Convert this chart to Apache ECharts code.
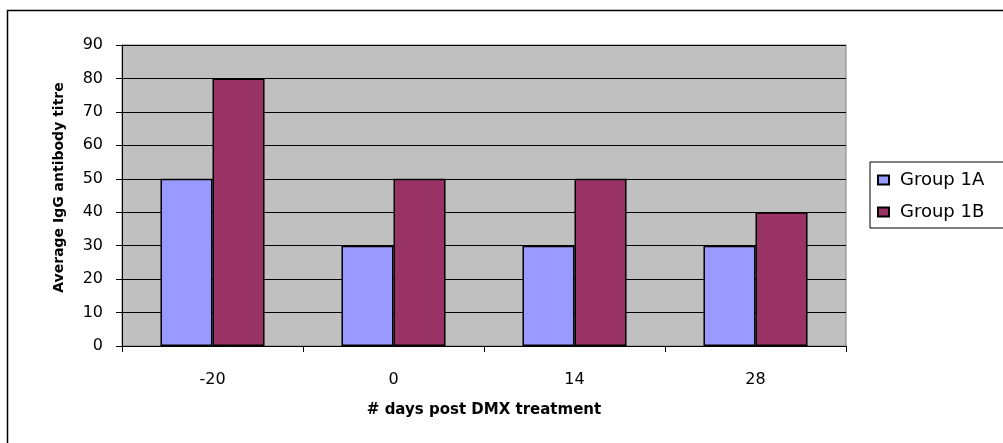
<!DOCTYPE html>
<html>
<head>
<meta charset="utf-8">
<script src="https://cdn.jsdelivr.net/npm/echarts@6/dist/echarts.min.js"></script>
<style>
  html, body { margin: 0; padding: 0; background: #fff; }
  #main { width: 1003px; height: 443px; }
</style>
</head>
<body>
<div id="main"></div>
<script>
// chart data
const days = ["-20", "0", "14", "28"];
const group1A = [50, 30, 30, 30];
const group1B = [80, 50, 50, 40];
const yTicks = [0, 90, 10]; // min, max, interval

const font = "'DejaVu Sans', 'Liberation Sans', Arial, sans-serif";

let myChart = echarts.init(document.getElementById("main"));
myChart.setOption({
  animation: false,
  backgroundColor: "#fff",
  graphic: [
    {
      type: "rect",
      shape: { x: 7.5, y: 10.5, width: 1010, height: 450 },
      style: { fill: "none", stroke: "#000", lineWidth: 1.5 },
      silent: true,
    },
  ],
  grid: {
    left: 122,
    top: 45,
    width: 724,
    height: 301,
    show: true,
    backgroundColor: "#c0c0c0",
    borderColor: "#808080",
    borderWidth: 1,
  },
  legend: {
    orient: "vertical",
    left: 870,
    top: 162,
    padding: [9, 40, 7, 7],
    itemWidth: 11,
    itemHeight: 9,
    itemGap: 14,
    borderColor: "#000",
    borderWidth: 1,
    backgroundColor: "#fff",
    icon: "rect",
    textStyle: {
      fontFamily: font,
      fontSize: 18,
      color: "#000",
      padding: [0, 0, 0, 6],
    },
  },
  xAxis: {
    type: "category",
    data: days,
    name: "# days post DMX treatment",
    nameLocation: "middle",
    nameGap: 57,
    nameTextStyle: {
      fontFamily: font,
      fontSize: 15,
      fontWeight: "bold",
      color: "#000",
    },
    axisLine: { lineStyle: { color: "#000", width: 1 } },
    axisTick: { show: true, length: 6, lineStyle: { color: "#000" } },
    axisLabel: { fontFamily: font, fontSize: 16, color: "#000", margin: 26 },
  },
  yAxis: {
    type: "value",
    min: yTicks[0],
    max: yTicks[1],
    interval: yTicks[2],
    name: "Average IgG antibody titre",
    nameLocation: "middle",
    nameGap: 56,
    nameRotate: 90,
    nameTextStyle: {
      fontFamily: font,
      fontSize: 14,
      fontWeight: "bold",
      color: "#000",
      padding: [0, 0, 0, 16],
    },
    axisLine: { show: true, lineStyle: { color: "#000", width: 1 } },
    axisTick: { show: true, length: 6, lineStyle: { color: "#000" } },
    axisLabel: { fontFamily: font, fontSize: 16, color: "#000", margin: 19 },
    splitLine: { show: true, lineStyle: { color: "#000", width: 1 } },
  },
  series: [
    {
      name: "Group 1A",
      type: "bar",
      data: group1A,
      barGap: "0%",
      barCategoryGap: "42.5%",
      itemStyle: { color: "#9999ff", borderColor: "#000", borderWidth: 1.5 },
    },
    {
      name: "Group 1B",
      type: "bar",
      data: group1B,
      barGap: "0%",
      barCategoryGap: "42.5%",
      itemStyle: { color: "#993366", borderColor: "#000", borderWidth: 1.5 },
    },
  ],
});
</script>
</body>
</html>
